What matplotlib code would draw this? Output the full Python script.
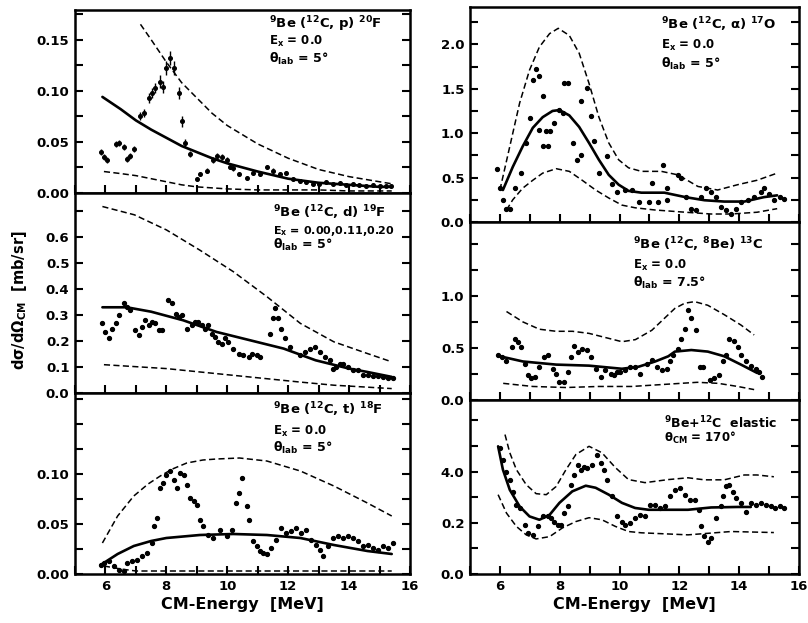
import matplotlib
matplotlib.use('Agg')
import matplotlib.pyplot as plt
from matplotlib.ticker import FixedLocator, MultipleLocator

plt.rcParams['font.family'] = ['DejaVu Sans']
plt.rcParams['font.weight'] = 'bold'
plt.rcParams['mathtext.fontset'] = 'custom'
plt.rcParams['mathtext.rm'] = 'DejaVu Sans:bold'
plt.rcParams['mathtext.it'] = 'DejaVu Sans:bold:italic'
plt.rcParams['mathtext.bf'] = 'DejaVu Sans:bold'
plt.rcParams['mathtext.default'] = 'rm'

# ---------------- Panel A: 9Be(12C,p)20F ----------------
a_px = [5.84, 5.95, 6.05, 6.33, 6.44, 6.6, 6.7, 6.8, 6.93, 7.13, 7.25, 7.42, 7.53, 7.64, 7.8, 7.9,
        8.0, 8.12, 8.24, 8.4, 8.5, 8.62, 8.78, 9.0, 9.1, 9.33, 9.54, 9.65, 9.82, 9.98, 10.09, 10.2,
        10.4, 10.64, 10.85, 11.07, 11.29, 11.5, 11.73, 11.94, 12.16, 12.38, 12.6, 12.8, 13.0, 13.24,
        13.47, 13.69, 13.9, 14.12, 14.34, 14.56, 14.78, 15.0, 15.2, 15.38]
a_py = [0.040, 0.035, 0.032, 0.048, 0.049, 0.045, 0.033, 0.036, 0.043, 0.075, 0.078, 0.093, 0.098, 0.103, 0.109, 0.104,
        0.122, 0.132, 0.122, 0.098, 0.070, 0.049, 0.038, 0.014, 0.019, 0.022, 0.032, 0.036, 0.035, 0.032, 0.025, 0.024,
        0.019, 0.015, 0.020, 0.019, 0.025, 0.022, 0.019, 0.020, 0.014, 0.012, 0.011, 0.009, 0.009, 0.011,
        0.009, 0.010, 0.008, 0.009, 0.008, 0.007, 0.008, 0.007, 0.007, 0.007]
a_err = [0.003, 0.003, 0.003, 0.003, 0.003, 0.003, 0.003, 0.003, 0.003, 0.004, 0.004, 0.005, 0.005, 0.005, 0.006, 0.006,
         0.007, 0.007, 0.007, 0.006, 0.005, 0.004, 0.003, 0.002, 0.002, 0.002, 0.003, 0.003, 0.003, 0.003, 0.002, 0.002,
         0.002, 0.002, 0.002, 0.002, 0.002, 0.002, 0.002, 0.002, 0.002, 0.002, 0.002, 0.001, 0.001, 0.001,
         0.001, 0.001, 0.001, 0.001, 0.001, 0.001, 0.001, 0.001, 0.001, 0.001]
a_sx = [5.9, 6.5, 7.0, 7.5, 8.0, 8.5, 9.0, 9.5, 10, 11, 12, 13, 14, 15, 15.4]
a_sy = [0.094, 0.082, 0.071, 0.062, 0.054, 0.046, 0.040, 0.034, 0.029, 0.021, 0.014, 0.010, 0.008, 0.006, 0.006]
a_ux = [7.15, 7.5, 8, 8.5, 9, 9.5, 10, 11, 12, 13, 14, 15, 15.4]
a_uy = [0.165, 0.150, 0.128, 0.108, 0.093, 0.078, 0.066, 0.048, 0.034, 0.023, 0.016, 0.011, 0.009]
a_lx = [5.95, 6.5, 7, 7.5, 8, 8.5, 9, 10, 11, 12, 13, 14, 15, 15.4]
a_ly = [0.021, 0.019, 0.017, 0.014, 0.011, 0.008, 0.006, 0.004, 0.003, 0.003, 0.003, 0.002, 0.002, 0.002]

# ---------------- Panel B: 9Be(12C,d)19F ----------------
b_px = [5.9, 6.0, 6.1, 6.22, 6.33, 6.44, 6.6, 6.7, 6.82, 6.98, 7.1, 7.2, 7.3, 7.42, 7.53, 7.64, 7.75, 7.85,
        8.07, 8.18, 8.3, 8.4, 8.5, 8.67, 8.84, 8.95, 9.05, 9.16, 9.27, 9.38, 9.5, 9.6, 9.7, 9.82, 9.93,
        10.04, 10.2, 10.37, 10.53, 10.7, 10.8, 10.97, 11.07, 11.4, 11.5, 11.56, 11.67, 11.78, 11.9, 12.05,
        12.38, 12.55, 12.7, 12.87, 13.03, 13.2, 13.36, 13.47, 13.58, 13.69, 13.8, 13.96, 14.12, 14.29,
        14.45, 14.61, 14.78, 14.94, 15.1, 15.27, 15.43]
b_py = [0.268, 0.236, 0.21, 0.248, 0.268, 0.30, 0.345, 0.332, 0.319, 0.242, 0.223, 0.255, 0.28, 0.261, 0.274, 0.268, 0.242, 0.242,
        0.358, 0.345, 0.306, 0.293, 0.30, 0.248, 0.261, 0.274, 0.274, 0.261, 0.248, 0.261, 0.229, 0.216, 0.197, 0.19, 0.21,
        0.197, 0.171, 0.152, 0.145, 0.139, 0.152, 0.145, 0.139, 0.229, 0.287, 0.326, 0.287, 0.248, 0.21, 0.178,
        0.145, 0.158, 0.171, 0.178, 0.158, 0.139, 0.126, 0.094, 0.10, 0.113, 0.113, 0.10, 0.088, 0.088,
        0.068, 0.068, 0.064, 0.064, 0.062, 0.059, 0.059]
b_sx = [5.9, 6.7, 7.5, 8.55, 9.65, 10.75, 11.85, 12.9, 14.0, 14.6, 15.4]
b_sy = [0.33, 0.33, 0.313, 0.28, 0.235, 0.203, 0.171, 0.126, 0.094, 0.081, 0.062]
b_ux = [5.9, 6.95, 8.0, 9.1, 10.2, 11.3, 12.4, 13.5, 14.6, 15.4]
b_uy = [0.718, 0.686, 0.628, 0.55, 0.467, 0.371, 0.268, 0.197, 0.152, 0.12]
b_lx = [5.95, 8.0, 10.2, 12.4, 13.5, 15.4]
b_ly = [0.109, 0.094, 0.068, 0.042, 0.030, 0.017]

# ---------------- Panel C: 9Be(12C,t)18F ----------------
c_px = [5.84, 5.95, 6.1, 6.27, 6.44, 6.6, 6.7, 6.87, 7.04, 7.2, 7.36, 7.53, 7.58, 7.69, 7.8, 7.9, 8.0, 8.12,
        8.24, 8.36, 8.46, 8.57, 8.67, 8.78, 8.9, 9.0, 9.1, 9.2, 9.38, 9.54, 9.76, 9.98, 10.14, 10.3, 10.37,
        10.48, 10.64, 10.72, 10.85, 10.96, 11.07, 11.18, 11.29, 11.45, 11.6, 11.78, 11.94, 12.1, 12.27,
        12.43, 12.6, 12.76, 12.92, 13.03, 13.14, 13.3, 13.47, 13.63, 13.8, 13.96, 14.12, 14.29, 14.45,
        14.61, 14.78, 14.94, 15.1, 15.27, 15.43]
c_py = [0.009, 0.011, 0.013, 0.008, 0.004, 0.003, 0.011, 0.013, 0.014, 0.018, 0.021, 0.031, 0.048, 0.056, 0.086, 0.091, 0.099, 0.103,
        0.094, 0.086, 0.101, 0.099, 0.089, 0.076, 0.073, 0.069, 0.054, 0.048, 0.039, 0.036, 0.044, 0.038, 0.044, 0.071, 0.081,
        0.096, 0.068, 0.054, 0.033, 0.028, 0.023, 0.021, 0.020, 0.026, 0.034, 0.046, 0.041, 0.043, 0.046,
        0.041, 0.044, 0.034, 0.029, 0.024, 0.018, 0.028, 0.036, 0.038, 0.036, 0.038, 0.036, 0.033, 0.028,
        0.029, 0.026, 0.024, 0.028, 0.026, 0.031]
c_sx = [5.84, 6.4, 6.93, 7.5, 8.0, 9.1, 10.2, 11.3, 12.4, 13.5, 14.6, 15.4]
c_sy = [0.009, 0.020, 0.028, 0.033, 0.036, 0.039, 0.040, 0.039, 0.036, 0.029, 0.023, 0.020]
c_ux = [5.9, 6.4, 6.93, 7.4, 7.8, 8.2, 8.67, 9.2, 9.65, 10.4, 11.3, 12.4, 13.5, 14.6, 15.4]
c_uy = [0.031, 0.058, 0.078, 0.090, 0.098, 0.105, 0.111, 0.114, 0.115, 0.116, 0.113, 0.103, 0.088, 0.071, 0.058]
c_lx = [5.95, 6.5, 7.0, 8.0, 10.0, 12.0, 14.0, 15.4]
c_ly = [0.008, 0.005, 0.003, 0.003, 0.003, 0.003, 0.003, 0.003]

# ---------------- Panel D: 9Be(12C,alpha)17O ----------------
d_px = [5.89, 6.0, 6.11, 6.22, 6.33, 6.5, 6.72, 6.88, 6.99, 7.1, 7.21, 7.32, 7.32, 7.43, 7.43, 7.55, 7.6, 7.66,
        7.82, 7.99, 8.1, 8.15, 8.26, 8.43, 8.59, 8.7, 8.7, 8.92, 9.04, 9.15, 9.31, 9.59, 9.75, 9.92, 10.19,
        10.4, 10.64, 10.97, 11.08, 11.3, 11.46, 11.57, 11.6, 11.96, 12.07, 12.23, 12.4, 12.57, 12.73, 12.9,
        13.06, 13.23, 13.4, 13.56, 13.73, 13.89, 14.06, 14.28, 14.5, 14.72, 14.83, 15.0, 15.16, 15.38, 15.5]
d_py = [0.60, 0.38, 0.25, 0.15, 0.15, 0.38, 0.55, 0.89, 1.17, 1.60, 1.72, 1.04, 1.64, 1.42, 0.85, 1.02, 0.85, 1.02,
        1.11, 1.26, 1.23, 1.57, 1.57, 0.89, 0.70, 0.75, 1.36, 1.51, 1.19, 0.91, 0.55, 0.74, 0.43, 0.34, 0.36,
        0.36, 0.23, 0.23, 0.44, 0.23, 0.64, 0.25, 0.38, 0.53, 0.49, 0.28, 0.15, 0.13, 0.28, 0.38,
        0.34, 0.28, 0.17, 0.13, 0.09, 0.15, 0.23, 0.25, 0.28, 0.34, 0.38, 0.32, 0.25, 0.28, 0.26]
d_sx = [6.1, 6.43, 6.76, 7.1, 7.43, 7.76, 7.99, 8.32, 8.65, 8.98, 9.31, 9.64, 9.97, 10.3, 10.73, 11.5,
        12.2, 12.84, 13.5, 14.17, 14.83, 15.27]
d_sy = [0.36, 0.62, 0.85, 1.06, 1.18, 1.25, 1.26, 1.20, 1.07, 0.89, 0.70, 0.53, 0.42, 0.35, 0.33, 0.33,
        0.28, 0.245, 0.23, 0.23, 0.28, 0.30]
d_ux = [6.0, 6.33, 6.66, 6.99, 7.32, 7.66, 7.95, 8.32, 8.65, 8.98, 9.31, 9.64, 9.97, 10.3, 10.73, 11.4,
        11.96, 12.62, 13.28, 13.95, 14.6, 15.27]
d_uy = [0.36, 0.85, 1.34, 1.71, 1.97, 2.12, 2.18, 2.10, 1.90, 1.56, 1.18, 0.89, 0.70, 0.61, 0.57, 0.57,
        0.53, 0.40, 0.36, 0.42, 0.47, 0.55]
d_lx = [6.22, 6.43, 6.76, 7.1, 7.43, 7.88, 8.32, 8.75, 9.2, 9.64, 10.08, 10.52, 11.19, 12.2, 13.06, 13.73,
        14.6, 15.27]
d_ly = [0.135, 0.25, 0.38, 0.47, 0.55, 0.60, 0.57, 0.47, 0.36, 0.27, 0.19, 0.16, 0.135, 0.11, 0.09, 0.09,
        0.11, 0.15]

# ---------------- Panel E: 9Be(12C,8Be)13C ----------------
e_px = [5.94, 6.06, 6.22, 6.39, 6.5, 6.61, 6.72, 6.83, 6.94, 7.05, 7.16, 7.32, 7.49, 7.6, 7.77, 7.88, 7.99, 8.15,
        8.26, 8.37, 8.48, 8.6, 8.76, 8.92, 9.04, 9.2, 9.37, 9.53, 9.7, 9.81, 9.92, 10.03, 10.19, 10.36, 10.53,
        10.69, 10.91, 11.08, 11.24, 11.41, 11.57, 11.68, 11.8, 11.96, 12.07, 12.18, 12.29, 12.4, 12.57, 12.68,
        12.79, 13.01, 13.17, 13.34, 13.45, 13.56, 13.67, 13.84, 13.95, 14.06, 14.22, 14.39, 14.55, 14.66, 14.77]
e_py = [0.43, 0.41, 0.37, 0.51, 0.59, 0.56, 0.51, 0.35, 0.24, 0.21, 0.22, 0.32, 0.41, 0.43, 0.30, 0.25, 0.17, 0.17,
        0.27, 0.41, 0.52, 0.46, 0.49, 0.48, 0.41, 0.30, 0.22, 0.29, 0.25, 0.24, 0.27, 0.27, 0.29, 0.32, 0.32,
        0.25, 0.35, 0.38, 0.32, 0.29, 0.30, 0.37, 0.43, 0.49, 0.59, 0.68, 0.86, 0.79, 0.67, 0.32,
        0.32, 0.19, 0.21, 0.24, 0.37, 0.43, 0.59, 0.57, 0.51, 0.43, 0.37, 0.33, 0.30, 0.27, 0.22]
e_sx = [6.0, 6.77, 7.88, 8.98, 10.08, 10.64, 11.19, 11.63, 11.85, 12.4, 12.95, 13.5, 14.06, 14.6]
e_sy = [0.42, 0.37, 0.34, 0.33, 0.30, 0.32, 0.37, 0.42, 0.465, 0.48, 0.465, 0.42, 0.34, 0.26]
e_ux = [6.22, 6.77, 7.32, 7.88, 8.43, 8.98, 9.53, 10.08, 10.53, 11.08, 11.52, 11.85, 12.18, 12.51, 12.95,
        13.5, 14.06, 14.5]
e_uy = [0.85, 0.75, 0.68, 0.66, 0.66, 0.64, 0.60, 0.56, 0.58, 0.67, 0.79, 0.88, 0.93, 0.945, 0.91,
        0.82, 0.72, 0.625]
e_lx = [6.11, 7.1, 8.2, 9.3, 10.4, 11.5, 12.6, 13.3, 13.95, 14.5]
e_ly = [0.16, 0.13, 0.12, 0.13, 0.13, 0.15, 0.17, 0.16, 0.13, 0.10]

# ---------------- Panel F: 9Be + 12C elastic ----------------
f_px = [6.0, 6.11, 6.22, 6.33, 6.44, 6.55, 6.66, 6.83, 6.94, 7.1, 7.27, 7.43, 7.6, 7.71, 7.82, 7.93, 8.03, 8.15,
        8.26, 8.37, 8.48, 8.6, 8.7, 8.81, 8.92, 9.09, 9.26, 9.37, 9.48, 9.59, 9.75, 9.92, 10.08, 10.19, 10.36,
        10.53, 10.69, 10.86, 11.02, 11.19, 11.35, 11.52, 11.68, 11.85, 12.01, 12.18, 12.34, 12.51, 12.67,
        12.73, 12.84, 12.95, 13.06, 13.23, 13.4, 13.45, 13.56, 13.67, 13.78, 13.89, 14.06, 14.22, 14.39,
        14.55, 14.72, 14.88, 15.05, 15.21, 15.38, 15.49]
f_py = [4.91, 4.45, 4.0, 3.68, 3.22, 2.70, 2.57, 1.92, 1.60, 1.53, 1.86, 2.25, 2.25, 2.18, 2.05, 1.92, 1.92, 2.38,
        2.64, 3.48, 3.87, 4.26, 4.06, 4.19, 4.13, 4.26, 4.65, 4.32, 4.06, 3.68, 3.03, 2.25, 2.05, 1.92, 1.99,
        2.18, 2.31, 2.25, 2.70, 2.70, 2.57, 2.64, 3.03, 3.29, 3.35, 3.09, 2.90, 2.90, 2.51,
        1.86, 1.47, 1.27, 1.40, 2.18, 2.64, 3.03, 3.42, 3.48, 3.22, 2.96, 2.77, 2.44, 2.77,
        2.70, 2.77, 2.70, 2.64, 2.57, 2.64, 2.57]
f_sx = [5.94, 6.1, 6.33, 6.66, 6.99, 7.32, 7.66, 7.99, 8.42, 8.87, 9.2, 9.64, 10.08, 10.52, 10.97, 12.29,
        13.06, 13.95, 14.39]
f_sy = [4.99, 4.08, 3.29, 2.64, 2.25, 2.12, 2.31, 2.78, 3.23, 3.45, 3.37, 3.10, 2.78, 2.58, 2.51, 2.51,
        2.60, 2.62, 2.62]
f_ux = [6.17, 6.33, 6.55, 6.88, 7.21, 7.55, 7.88, 8.21, 8.54, 8.98, 9.41, 9.86, 10.3, 10.85, 11.63, 12.29,
        12.84, 13.5, 14.17, 14.6, 15.16]
f_uy = [5.45, 4.74, 4.08, 3.49, 3.14, 3.10, 3.42, 4.08, 4.67, 4.99, 4.74, 4.16, 3.69, 3.57, 3.69, 3.76,
        3.68, 3.68, 3.87, 3.87, 3.8]
f_lx = [5.94, 6.22, 6.55, 6.88, 7.21, 7.66, 8.09, 8.54, 8.98, 9.41, 9.86, 10.3, 10.73, 12.29, 13.73, 15.16]
f_ly = [3.10, 2.38, 1.86, 1.53, 1.37, 1.46, 1.80, 2.05, 2.20, 2.12, 1.86, 1.66, 1.61, 1.53, 1.66, 1.62]

# tick labels
x_ticks = [6, 8, 10, 12, 14, 16]
x_ticklabels = ['6', '8', '10', '12', '14', '16']
a_yt = [0.0, 0.05, 0.10, 0.15]
a_ytl = ['0.00', '0.05', '0.10', '0.15']
b_yt = [0.0, 0.1, 0.2, 0.3, 0.4, 0.5, 0.6]
b_ytl = ['0.0', '0.1', '0.2', '0.3', '0.4', '0.5', '0.6']
c_yt = [0.0, 0.05, 0.10]
c_ytl = ['0.00', '0.05', '0.10']
d_yt = [0.0, 0.5, 1.0, 1.5, 2.0]
d_ytl = ['0.0', '0.5', '1.0', '1.5', '2.0']
e_yt = [0.0, 0.5, 1.0]
e_ytl = ['0.0', '0.5', '1.0']
f_yt = [0.0, 2.0, 4.0]
f_ytl = ['0.0', '0.2', '4.0']

W, H = 808, 623
fig = plt.figure(figsize=(W / 100, H / 100), dpi=100)


def make_ax(x0, x1, ytop, ybot):
    return fig.add_axes([x0 / W, 1 - ybot / H, (x1 - x0) / W, (ybot - ytop) / H])


dash = (0, (4, 2.2))


def panel(ax, px, py, sx, sy, ux, uy, lx, ly, yt, ytl, ymax, yminor, texts, tx, err=None, bottom=False):
    ax.plot(ux, uy, color='black', lw=1.1, ls=dash, solid_joinstyle='round')
    ax.plot(lx, ly, color='black', lw=1.1, ls=dash, solid_joinstyle='round')
    ax.plot(sx, sy, color='black', lw=1.9, solid_joinstyle='round', solid_capstyle='round')
    if err is not None:
        ax.errorbar(px, py, yerr=err, fmt='o', ms=2.6, color='black', elinewidth=1.0, capsize=0)
    else:
        ax.plot(px, py, 'o', ms=2.8, color='black')
    ax.set_xlim(5.0, 16.0)
    ax.set_ylim(0, ymax)
    ax.xaxis.set_major_locator(FixedLocator(x_ticks))
    ax.xaxis.set_minor_locator(MultipleLocator(1))
    ax.yaxis.set_major_locator(FixedLocator(yt))
    ax.yaxis.set_minor_locator(MultipleLocator(yminor))
    ax.set_yticklabels(ytl)
    if bottom:
        ax.set_xticklabels(x_ticklabels)
        ax.set_xlabel('CM-Energy  [MeV]', fontsize=11.5, fontweight='bold', labelpad=3)
    else:
        ax.set_xticklabels([])
    ax.tick_params(which='both', direction='in', left=True, right=True, top=False, bottom=True,
                   length=6, width=1.5, labelsize=9.5, pad=4)
    for s in ax.spines.values():
        s.set_linewidth(1.8)
    for (txt, yy, fs) in texts:
        ax.text(tx, yy, txt, transform=ax.transAxes, fontsize=fs, fontweight='bold', va='center', ha='left')


ax_a = make_ax(75, 410, 10, 193)
panel(ax_a, a_px, a_py, a_sx, a_sy, a_ux, a_uy, a_lx, a_ly, a_yt, a_ytl, 0.179, 0.025,
      [("$^{9}$Be ($^{12}$C, p) $^{20}$F", 0.925, 9.5), ("E$_{x}$ = 0.0", 0.83, 8.5), ("θ$_{lab}$ = 5°", 0.73, 9)],
      0.58, err=a_err)

ax_b = make_ax(75, 410, 193, 393)
panel(ax_b, b_px, b_py, b_sx, b_sy, b_ux, b_uy, b_lx, b_ly, b_yt, b_ytl, 0.77, 0.1,
      [("$^{9}$Be ($^{12}$C, d) $^{19}$F", 0.90, 9.5), ("E$_{x}$ = 0.00,0.11,0.20", 0.81, 8), ("θ$_{lab}$ = 5°", 0.74, 9)],
      0.59)

ax_c = make_ax(75, 410, 393, 574)
panel(ax_c, c_px, c_py, c_sx, c_sy, c_ux, c_uy, c_lx, c_ly, c_yt, c_ytl, 0.181, 0.025,
      [("$^{9}$Be ($^{12}$C, t) $^{18}$F", 0.905, 9.5), ("E$_{x}$ = 0.0", 0.785, 8.5), ("θ$_{lab}$ = 5°", 0.695, 9)],
      0.59, bottom=True)

ax_d = make_ax(470, 799, 7, 222)
panel(ax_d, d_px, d_py, d_sx, d_sy, d_ux, d_uy, d_lx, d_ly, d_yt, d_ytl, 2.42, 0.25,
      [("$^{9}$Be ($^{12}$C, α) $^{17}$O", 0.92, 9.5), ("E$_{x}$ = 0.0", 0.82, 8.5), ("θ$_{lab}$ = 5°", 0.735, 9)],
      0.58)

ax_e = make_ax(470, 799, 222, 400)
panel(ax_e, e_px, e_py, e_sx, e_sy, e_ux, e_uy, e_lx, e_ly, e_yt, e_ytl, 1.71, 0.25,
      [("$^{9}$Be ($^{12}$C, $^{8}$Be) $^{13}$C", 0.87, 9.5), ("E$_{x}$ = 0.0", 0.755, 8.5), ("θ$_{lab}$ = 7.5°", 0.66, 9)],
      0.495)

ax_f = make_ax(470, 799, 400, 574)
panel(ax_f, f_px, f_py, f_sx, f_sy, f_ux, f_uy, f_lx, f_ly, f_yt, f_ytl, 6.8, 1.0,
      [("$^{9}$Be+$^{12}$C  elastic", 0.87, 9), ("θ$_{CM}$ = 170°", 0.78, 8.5)],
      0.59, bottom=True)

fig.text(20 / W, 1 - 300 / H, r"d$\sigma$/d$\Omega_{CM}$  [mb/sr]", rotation=90, fontsize=10.5,
         fontweight='bold', ha='center', va='center')

fig.savefig('out.png', dpi=100)
